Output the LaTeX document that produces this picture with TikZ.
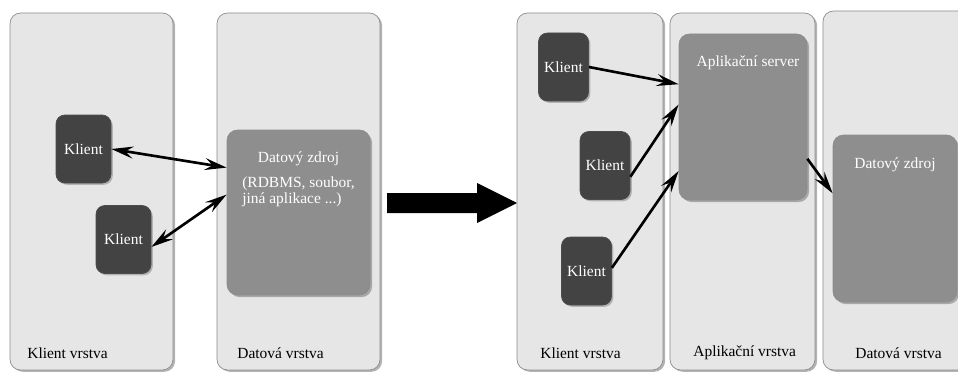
\documentclass[tikz,border=0pt]{standalone}
\usepackage{fontspec}
\setmainfont{Liberation Serif}
\newfontfamily\vrstvafont{Liberation Serif}
\usetikzlibrary{arrows.meta}
\usetikzlibrary{shadows}
\definecolor{tierfill}{HTML}{E6E6E6}
\definecolor{tierline}{HTML}{8C8C8C}
\definecolor{klntfill}{HTML}{434343}
\definecolor{blokfill}{HTML}{8E8E8E}
\tikzset{%
    every node/.style={font=\vrstvafont\fontsize{8.8}{9.5}\selectfont},
    tier/.style={draw=tierline,fill=tierfill,rounded corners=6pt,inner sep=0pt,
        drop shadow={shadow xshift=1.2pt,shadow yshift=-1pt,opacity=.6}},
    klnt/.style={draw=black!70,fill=klntfill,rounded corners=5pt,inner sep=0pt,
        minimum width=1cm,minimum height=1.36cm,text=white,
        drop shadow={shadow xshift=1pt,shadow yshift=-1pt,opacity=.5}},
    blok/.style={draw=black!45,fill=blokfill,rounded corners=6pt,inner sep=0pt,
        drop shadow={shadow xshift=1.2pt,shadow yshift=-1.2pt,opacity=.6}},
    btxt/.style={text=white,inner sep=0pt},
    lbl/.style={anchor=west,inner sep=0pt},
    hrot/.tip={Stealth[length=12.5pt,width=6.8pt,inset=4.5pt]},
    spoj/.style={line width=1.5pt,-hrot},
    spoj2/.style={line width=1.5pt,hrot-hrot}
}

\begin{document}
\begin{tikzpicture}
        \useasboundingbox (0,0) rectangle (19.16,7.44);
        \clip (0,0) rectangle (19.16,7.44);

        % dvouvrstva
        \node[tier,minimum width=3.26cm,minimum height=7.14cm] (p1) at (1.83,3.61){};
        \node[tier,minimum width=3.26cm,minimum height=7.14cm] (p2) at (5.97,3.61){};
        \node[lbl] (l1) at (0.54,0.38){Klient vrstva};
        \node[lbl] (l2) at (4.74,0.38){Datová vrstva};

        \node[klnt,minimum width=1.1cm] (k1) at (1.67,4.46){Klient};
        \node[klnt,minimum width=1.1cm] (k2) at (2.47,2.65){Klient};
        \node[blok,minimum width=2.86cm,minimum height=3.3cm] (dz1) at (5.97,3.19){};
        \node[btxt] (t1) at ([yshift=-0.58cm]dz1.north){Datový zdroj};
        \node[btxt,align=left] (t2) at ([yshift=-1.24cm]dz1.north){(RDBMS, soubor,\\jiná aplikace ...)};

        \draw[spoj2] (k1.east) -- (dz1.148);
        \draw[spoj2] (k2.-15) -- (dz1.166);

        % prechod
        \fill (7.74,3.18) -- (9.54,3.18) -- (9.54,2.98) -- (10.34,3.38)
            -- (9.54,3.78) -- (9.54,3.58) -- (7.74,3.58) -- cycle;

        % trivrstva
        \node[tier,minimum width=2.92cm,minimum height=7.14cm] (p3) at (11.8,3.61){};
        \node[tier,minimum width=2.9cm,minimum height=7.14cm] (p4) at (14.85,3.61){};
        \node[tier,minimum width=2.9cm,minimum height=7.18cm] (p5) at (17.91,3.63){};
        \node[lbl] (l3) at (10.8,0.38){Klient vrstva};
        \node[lbl] (l4) at (13.86,0.38){Aplikační vrstva};
        \node[lbl] (l5) at (17.1,0.38){Datová vrstva};

        \node[klnt] (ka) at (11.27,6.1){Klient};
        \node[klnt] (kb) at (12.1,4.13){Klient};
        \node[klnt] (kc) at (11.73,2.02){Klient};
        \node[blok,minimum width=2.56cm,minimum height=3.32cm] (srv) at (14.86,5.1){};
        \node[btxt] (t3) at ([xshift=0.1cm,yshift=-0.58cm]srv.north){Aplikační server};
        \node[blok,minimum width=2.48cm,minimum height=3.34cm] (dz2) at (17.9,3.07){};
        \node[btxt] (t4) at ([yshift=-0.6cm]dz2.north){Datový zdroj};

        \draw[spoj] (ka.east) -- (srv.153);
        \draw[spoj] (kb.-24) -- (srv.169);
        \draw[spoj] (kc.7) -- (srv.220);
        \draw[spoj] (srv.-33) -- (dz2.158);
    \end{tikzpicture}
\end{document}
